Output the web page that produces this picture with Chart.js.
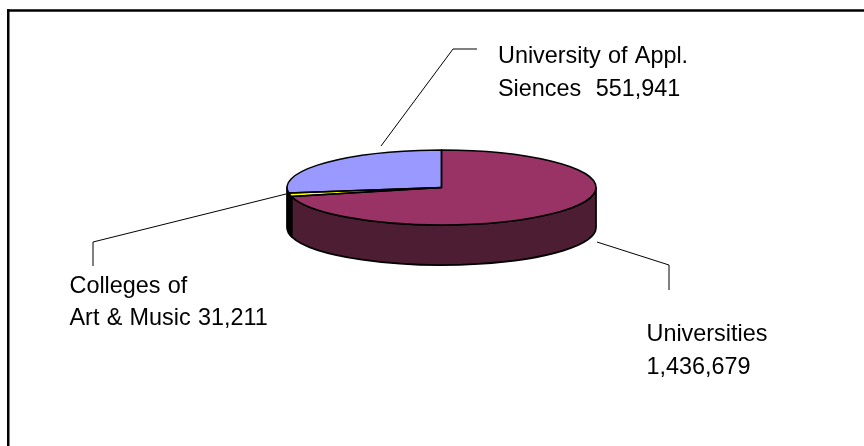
<!DOCTYPE html>
<html>
<head>
<meta charset="utf-8">
<style>html,body{margin:0;padding:0;background:#fff;overflow:hidden}canvas{display:block}</style>
<script src="https://cdn.jsdelivr.net/npm/chart.js@4/dist/chart.umd.min.js"></script>
</head>
<body>
<canvas id="c" width="864" height="446"></canvas>
<script>
const categories = ['Universities', 'Colleges of Art & Music', 'University of Appl. Siences'];
const values = [1436679, 31211, 551941];
const topColors = ['#993366', '#FFFF00', '#9999FF'];
const wallColors = ['#4D1D33', '#000000', '#000000'];
const fmt = v => v.toLocaleString('en-US');
const labelLines = [
  ['Universities', fmt(values[0])],
  ['Colleges of', 'Art & Music ' + fmt(values[1])],
  ['University of Appl.', 'Siences  ' + fmt(values[2])]
];

// Presentation layout (annotations only)
const labelAnchors = [
  {x: 646.5, y: [341, 374]},
  {x: 69.5, y: [293, 325]},
  {x: 498, y: [63, 96]}
];
const leaders = [
  [[597, 242], [669, 265], [669, 290]],
  [[286, 194], [93, 242], [93, 266]],
  [[381, 146], [453, 49], [477, 49]]
];
const PIE = {cy: 187.5, ry: 37.5, depth: 40};

function squash(meta) { return PIE.ry / meta.outerRadius; }

const pie3d = {
  id: 'pie3d',
  beforeDatasetsDraw(chart) {
    const ctx = chart.ctx, arcs = chart.getDatasetMeta(0).data;
    ctx.save();
    ctx.fillStyle = '#000';
    ctx.fillRect(7, 9.25, chart.width - 7, 2.5);
    ctx.fillRect(7, 9.25, 2.5, chart.height - 9.25);
    ctx.restore();

    ctx.save();
    ctx.lineWidth = 1.75;
    ctx.lineJoin = 'round';
    ctx.strokeStyle = '#000';
    arcs.forEach((a, i) => {
      const s = Math.max(a.startAngle, 0), e = Math.min(a.endAngle, Math.PI);
      if (e <= s) return;
      const rx = a.outerRadius, ry = rx * squash(a);
      ctx.beginPath();
      ctx.ellipse(a.x, PIE.cy, rx, ry, 0, s, e);
      ctx.ellipse(a.x, PIE.cy + PIE.depth, rx, ry, 0, e, s, true);
      ctx.closePath();
      ctx.fillStyle = wallColors[i];
      ctx.fill();
      ctx.stroke();
    });
    ctx.restore();

    const a0 = arcs[0], k = squash(a0);
    ctx.save();
    ctx.translate(0, PIE.cy);
    ctx.scale(1, k);
    ctx.translate(0, -a0.y);
  },
  afterDatasetsDraw(chart) {
    const ctx = chart.ctx, arcs = chart.getDatasetMeta(0).data;
    ctx.restore();

    ctx.save();
    ctx.lineWidth = 1.5;
    ctx.lineJoin = 'round';
    ctx.strokeStyle = '#000';
    arcs.forEach(a => {
      const rx = a.outerRadius, ry = rx * squash(a);
      ctx.beginPath();
      ctx.moveTo(a.x, PIE.cy);
      ctx.ellipse(a.x, PIE.cy, rx, ry, 0, a.startAngle, a.endAngle);
      ctx.closePath();
      ctx.stroke();
    });
    ctx.restore();

    ctx.save();
    ctx.lineWidth = 1;
    ctx.strokeStyle = '#000';
    leaders.forEach(pts => {
      ctx.beginPath();
      pts.forEach((p, i) => i ? ctx.lineTo(p[0], p[1]) : ctx.moveTo(p[0], p[1]));
      ctx.stroke();
    });
    ctx.fillStyle = '#000';
    ctx.font = '23.4px "Liberation Sans", Arial, sans-serif';
    ctx.wordSpacing = '0.8px';
    ctx.textBaseline = 'alphabetic';
    labelLines.forEach((lines, i) => {
      lines.forEach((t, j) => ctx.fillText(t, labelAnchors[i].x, labelAnchors[i].y[j]));
    });
    ctx.restore();
  }
};

new Chart(document.getElementById('c'), {
  type: 'pie',
  data: {
    labels: categories,
    datasets: [{data: values, backgroundColor: topColors, borderWidth: 0, clip: false}]
  },
  options: {
    responsive: false,
    animation: false,
    devicePixelRatio: 1,
    rotation: 0,
    layout: {padding: {left: 287, right: 268, top: 68, bottom: 69}},
    plugins: {legend: {display: false}, tooltip: {enabled: false}, title: {display: false}}
  },
  plugins: [pie3d]
});
</script>
</body>
</html>
